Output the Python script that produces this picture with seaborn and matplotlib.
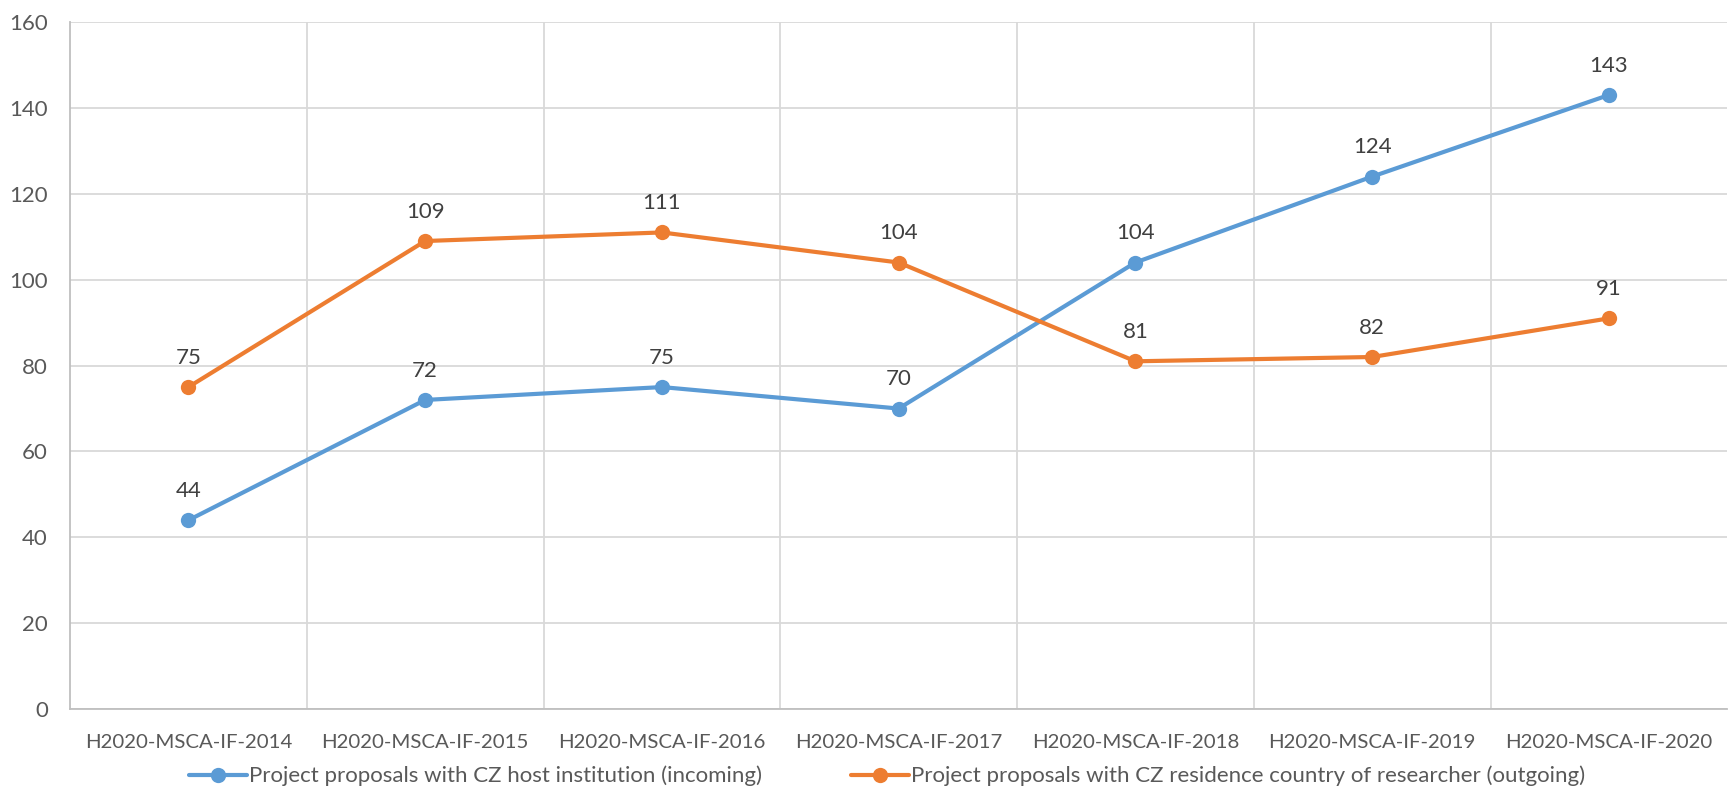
import pandas as pd
import matplotlib.pyplot as plt
import seaborn as sns

# Datos
calls = ['H2020-MSCA-IF-2014', 'H2020-MSCA-IF-2015', 'H2020-MSCA-IF-2016',
         'H2020-MSCA-IF-2017', 'H2020-MSCA-IF-2018', 'H2020-MSCA-IF-2019',
         'H2020-MSCA-IF-2020']
incoming = [44, 72, 75, 70, 104, 124, 143]
outgoing = [75, 109, 111, 104, 81, 82, 91]
series_names = ['Project proposals with CZ host institution (incoming)',
                'Project proposals with CZ residence country of researcher (outgoing)']
colors = ['#5B9BD5', '#ED7D31']
y_ticks = [0, 20, 40, 60, 80, 100, 120, 140, 160]

df = pd.DataFrame({
    'call': calls * 2,
    'value': incoming + outgoing,
    'series': [series_names[0]] * len(calls) + [series_names[1]] * len(calls),
})

sns.set_style("white")
plt.rcParams['font.family'] = ['Lato', 'DejaVu Sans']

fig = plt.figure(figsize=(17.29, 8.05), dpi=100)
ax = fig.add_axes([0.0405, 0.119, 0.9585, 0.8537])

sns.lineplot(data=df, x='call', y='value', hue='series', palette=colors,
             marker='o', markersize=11, markeredgewidth=0, linewidth=3,
             sort=False, ax=ax, legend=False)

# Etiquetas de datos encima de cada punto
for vals in (incoming, outgoing):
    for i, v in enumerate(vals):
        ax.annotate(f'{v}', (i, v), xytext=(0, 14), textcoords='offset points',
                    ha='center', va='bottom', fontsize=16, color='#404040')

ax.set_xlim(-0.5, len(calls) - 0.5)
ax.set_ylim(0, 160)
ax.set_yticks(y_ticks)
ax.set_xticks(range(len(calls)))
ax.set_xticklabels(calls)
ax.set_xticks([i + 0.5 for i in range(len(calls) - 1)], minor=True)
ax.grid(axis='y', color='#D9D9D9', linewidth=1.3)
ax.grid(axis='x', which='minor', color='#D9D9D9', linewidth=1.3)
ax.set_axisbelow(True)
ax.tick_params(axis='both', which='both', length=0, colors='#595959')
ax.tick_params(axis='x', pad=18, labelsize=14.7)
ax.tick_params(axis='y', pad=16, labelsize=16)
for s in ['top', 'right']:
    ax.spines[s].set_visible(False)
for s in ['left', 'bottom']:
    ax.spines[s].set_color('#BFBFBF')
    ax.spines[s].set_linewidth(1.3)
ax.set_xlabel('')
ax.set_ylabel('')

handles = [plt.Line2D([], [], color=c, marker='o', markersize=11, linewidth=3,
                      markeredgewidth=0) for c in colors]
fig.legend(handles, series_names, loc='center', bbox_to_anchor=(0.513, 0.036),
           ncol=2, frameon=False, fontsize=16, labelcolor='#595959',
           handlelength=2.6, handletextpad=0.1, columnspacing=4.0)

plt.savefig('out.png', dpi=100)
